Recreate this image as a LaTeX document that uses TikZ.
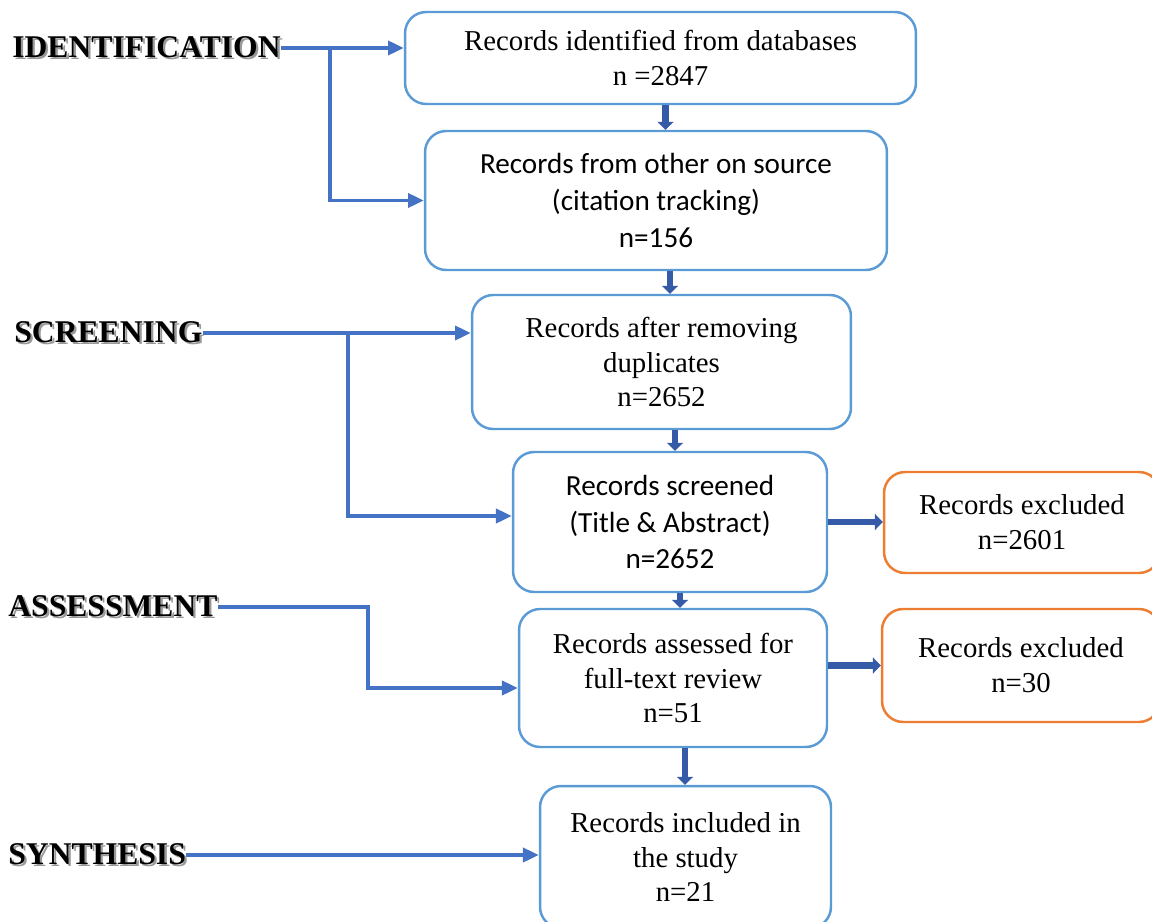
\documentclass[tikz,border=0pt]{standalone}
\usepackage{fontspec}
\setmainfont{Liberation Serif}
\newfontfamily\calibri{Carlito}
\usetikzlibrary{calc, arrows.meta, positioning}
\definecolor{boxblue}{RGB}{91,155,213}
\definecolor{boxorange}{RGB}{237,125,49}
\definecolor{linkblue}{RGB}{68,114,196}
\definecolor{stepblue}{RGB}{52,90,168}
\newcommand{\stagetext}[1]{\makebox[0pt][l]{\hspace{1.3pt}\raisebox{-1.3pt}{\textcolor{black!40}{#1}}}#1}

\begin{document}
\begin{tikzpicture}[x=0.02cm, y=-0.02cm,
    recbox/.style={draw=boxblue, line width=1.4pt, rounded corners=12pt, align=center, inner sep=0pt, font=\fontsize{16.4}{19.8}\selectfont},
    calbox/.style={recbox, font=\calibri\fontsize{16.6}{21}\selectfont},
    exbox/.style={recbox, draw=boxorange},
    stage/.style={anchor=west, inner sep=0pt, font=\fontsize{18}{20}\bfseries\selectfont},
    link/.style={draw=linkblue, line width=2pt, -{Triangle[length=9pt,width=8pt]}},
    stepline/.style={draw=stepblue, line width=3.8pt, -{Triangle[length=4.5pt,width=9pt]}}]
        \useasboundingbox (0,0) rectangle (1152,922);

        \node[recbox, minimum width=10.22cm, minimum height=1.84cm] (A) at (660.5,58) {Records identified from databases\\ n =2847};
        \node[calbox, minimum width=9.24cm, minimum height=2.78cm] (B) at (656,200.5) {Records from other on source\\ (citation tracking)\\ n=156};
        \node[recbox, minimum width=7.58cm, minimum height=2.68cm] (C) at (661.5,362) {Records after removing\\ duplicates\\ n=2652};
        \node[calbox, minimum width=6.28cm, minimum height=2.8cm] (D) at (670,522) {Records screened\\ (Title \& Abstract)\\ n=2652};
        \node[exbox, minimum width=5.52cm, minimum height=2.02cm] (E) at (1022,522.5) {Records excluded\\ n=2601};
        \node[recbox, minimum width=6.16cm, minimum height=2.76cm] (F) at (673,678) {Records assessed for\\ full-text review\\ n=51};
        \node[exbox, minimum width=5.56cm, minimum height=2.26cm] (G) at (1021,665.5) {Records excluded\\ n=30};
        \node[recbox, minimum width=5.82cm, minimum height=2.84cm] (H) at (685.5,857) {Records included in\\ the study\\ n=21};

        \node[stage] (ident) at (12,48) {\stagetext{IDENTIFICATION}};
        \node[stage] (screen) at (14,333) {\stagetext{SCREENING}};
        \node[stage] (assess) at (8,607) {\stagetext{ASSESSMENT}};
        \node[stage] (synth) at (8,855) {\stagetext{SYNTHESIS}};

        \coordinate (idsplit) at (330,48);
        \coordinate (scsplit) at (348,333);
        \coordinate (assplit) at (368,607);

        \draw[link] (ident.east) -- (ident.east -| A.west);
        \draw[link] (idsplit) |- (B.west);
        \draw[link] (screen.east) -- (screen.east -| C.west);
        \draw[link] (scsplit) |- ($(D.west)+(0,-6)$);
        \draw[link] (assess.east) -- (assplit) |- ($(F.west)+(0,10)$);
        \draw[link] (synth.east) -- (synth.east -| H.west);

        \draw[stepline] ([xshift=0.1cm]A.south) -- ([xshift=0.1cm]A.south |- B.north);
        \draw[stepline] ([xshift=0.28cm]B.south) -- ([xshift=0.28cm]B.south |- C.north);
        \draw[stepline] ([xshift=0.27cm]C.south) -- ([xshift=0.27cm]C.south |- D.north);
        \draw[stepline] ([xshift=0.2cm]D.south) -- ([xshift=0.2cm]D.south |- F.north);
        \draw[stepline] ([xshift=0.24cm]F.south) -- ([xshift=0.24cm]F.south |- H.north);
        \draw[stepline] (D.east) -- (D.east -| E.west);
        \draw[stepline] (G.west -| F.east) -- (G.west);
    \end{tikzpicture}
\end{document}
